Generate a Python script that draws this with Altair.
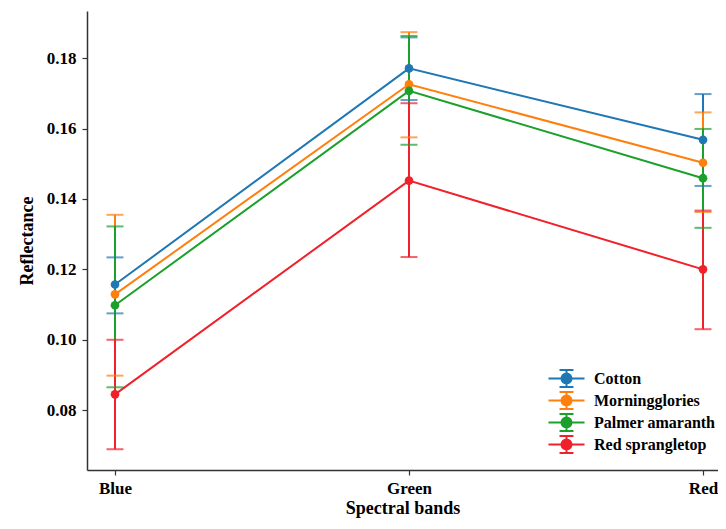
import altair as alt
import pandas as pd

bands = ["Blue", "Green", "Red"]
species = ["Cotton", "Morningglories", "Palmer amaranth", "Red sprangletop"]
colors = ["#1f77b4", "#ff7f0e", "#1ca02c", "#f0212a"]

# mean reflectance per band (Blue, Green, Red)
mean_cotton = [0.1157, 0.1771, 0.1568]
mean_morning = [0.1129, 0.1726, 0.1503]
mean_palmer = [0.1098, 0.1707, 0.1459]
mean_red = [0.0845, 0.1452, 0.1200]

# lower / upper ends of error bars
low_cotton = [0.1075, 0.1681, 0.1437]
up_cotton = [0.1234, 0.1859, 0.1698]
low_morning = [0.0898, 0.1575, 0.1363]
up_morning = [0.1355, 0.1874, 0.1646]
low_palmer = [0.0865, 0.1554, 0.1318]
up_palmer = [0.1322, 0.1863, 0.1599]
low_red = [0.0689, 0.1235, 0.1030]
up_red = [0.1000, 0.1672, 0.1367]

means = [mean_cotton, mean_morning, mean_palmer, mean_red]
lows = [low_cotton, low_morning, low_palmer, low_red]
ups = [up_cotton, up_morning, up_palmer, up_red]

rows = []
for i, sp in enumerate(species):
    for j, b in enumerate(bands):
        rows.append({"species": sp, "band": b, "bi": j, "order": i,
                     "mean": means[i][j], "low": lows[i][j], "up": ups[i][j]})
df = pd.DataFrame(rows)

FONT = "Liberation Serif"
# legend glyph: horizontal line, vertical error bar with caps, filled circle
sym = ("M-2.12,0L2.12,0M0,-1L0,1M-0.82,-1L0.82,-1M-0.82,1L0.82,1"
       "M0.59,0A0.59,0.59,0,1,1,-0.59,0A0.59,0.59,0,1,1,0.59,0Z")

label_expr = "datum.value == 0 ? 'Blue' : datum.value == 1 ? 'Green' : 'Red'"
xscale = alt.Scale(domain=[-0.0952, 2.051], nice=False, zero=False)
x = alt.X("bi:Q", scale=xscale,
          axis=alt.Axis(title="Spectral bands", values=[0, 1, 2], labelExpr=label_expr,
                        labelAngle=0, labelFontSize=17, titleFontSize=18,
                        labelPadding=5, titlePadding=3, tickSize=5))
ycommon = dict(scale=alt.Scale(domain=[0.063, 0.1934], nice=False, zero=False))
color = alt.Color("species:N", scale=alt.Scale(domain=species, range=colors),
                  sort=species,
                  legend=alt.Legend(title=None, orient="none", legendX=470, legendY=358,
                                    symbolType=sym, symbolSize=289, symbolStrokeWidth=2,
                                    symbolOpacity=1,
                                    labelFontSize=16, labelFont=FONT, labelFontWeight="bold",
                                    labelColor="black",
                                    labelOffset=18, rowPadding=-4))

base = alt.Chart(df)

line = base.mark_line(strokeWidth=2).encode(
    x=x,
    y=alt.Y("mean:Q", axis=alt.Axis(title="Reflectance", values=[0.08, 0.10, 0.12, 0.14, 0.16, 0.18],
                                    format=".2f", labelFontSize=17, titleFontSize=18,
                                    tickSize=5, labelPadding=6, titlePadding=10),
            **ycommon),
    color=color, order="order:Q")

rule = base.mark_rule(strokeWidth=2).encode(
    x=x, y=alt.Y("low:Q", **ycommon), y2="up:Q", color=color)
cap_lo = base.mark_tick(thickness=2, size=17, orient="horizontal").encode(
    x=x, y=alt.Y("low:Q", **ycommon), color=color)
cap_up = base.mark_tick(thickness=2, size=17, orient="horizontal").encode(
    x=x, y=alt.Y("up:Q", **ycommon), color=color)
pts = base.mark_point(filled=True, size=75, opacity=1).encode(
    x=x, y=alt.Y("mean:Q", **ycommon), color=color)

chart = alt.layer(line, rule, cap_lo, cap_up, pts).properties(
    width=631, height=459,
    autosize=alt.AutoSizeParams(type="none"),
    padding={"left": 79, "top": 3, "right": 0, "bottom": 51},
).configure_view(stroke=None).configure_axis(
    grid=False, domainColor="#333", domainWidth=1.5, tickColor="#333", tickWidth=1.2,
    labelFont=FONT, titleFont=FONT, labelFontWeight="bold", titleFontWeight="bold",
    labelColor="black", titleColor="black")

chart.save("out.html", embed_options={"renderer": "svg", "actions": False})
